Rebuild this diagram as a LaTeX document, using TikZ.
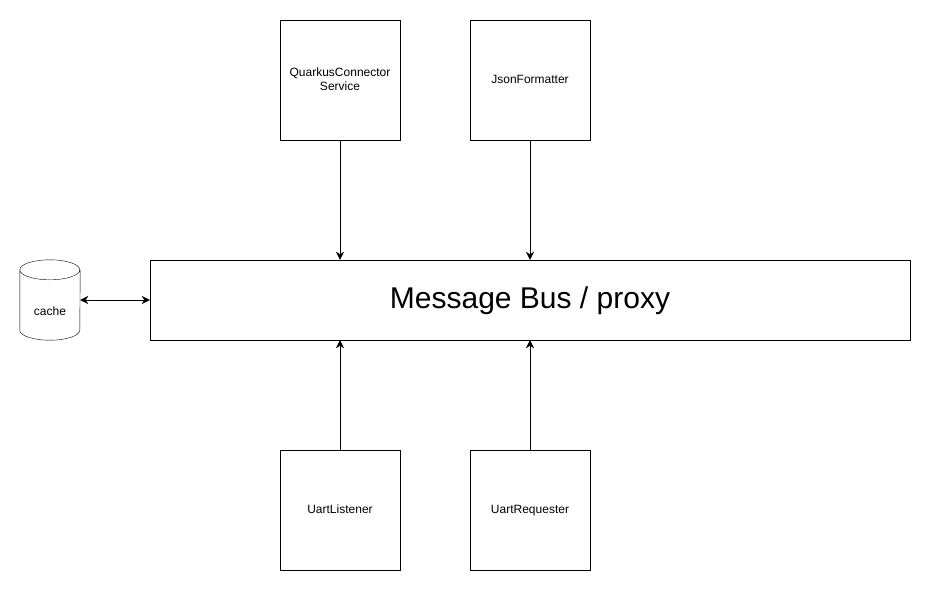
\documentclass[tikz,border=0pt]{standalone}
\usepackage{fontspec}
\setmainfont{Liberation Sans}
\usetikzlibrary{arrows.meta,positioning}

\begin{document}
\begin{tikzpicture} [x=1pt,y=-1pt,>={Stealth[length=8pt,width=8pt,inset=2.5pt]}]
\useasboundingbox (0,0) rectangle (931,592);
\tikzset{comp/.style={draw, minimum width=120pt, minimum height=120pt, align=center, font=\fontsize{12}{14}\selectfont, inner sep=0pt, text height=9pt, text depth=3pt}}
\node[draw, minimum width=760pt, minimum height=80pt, font=\fontsize{30}{34}\selectfont, text height=22pt, text depth=6pt] (bus) at (530,300) {Message Bus / proxy};
\node[comp, text height=23pt] (QCS) at (340,80) {QuarkusConnector\\Service};
\node[comp] (JF) at (530,80) {JsonFormatter};
\node[comp] (UL) at (340,510) {UartListener};
\node[comp] (UR) at (530,510) {UartRequester};
\node[minimum width=60pt, minimum height=80pt, inner sep=0pt] (cache) at (50,300) {};
\draw (cache.north west) ++(0,10) arc[start angle=180, end angle=540, x radius=30pt, y radius=10pt]
      -- ([yshift=10pt]cache.south west) arc[start angle=180, end angle=360, x radius=30pt, y radius=10pt]
      -- ([yshift=-10pt]cache.north east);
\node[font=\fontsize{12}{14}\selectfont, text height=9pt, text depth=3pt] (cachetext) at (50,312) {cache};
\draw[->] (QCS) -- (QCS |- bus.north);
\draw[->] (JF) -- (JF |- bus.north);
\draw[->] (UL) -- (UL |- bus.south);
\draw[->] (UR) -- (UR |- bus.south);
\draw[<->] (cache) -- (bus);
\end{tikzpicture}
\end{document}
